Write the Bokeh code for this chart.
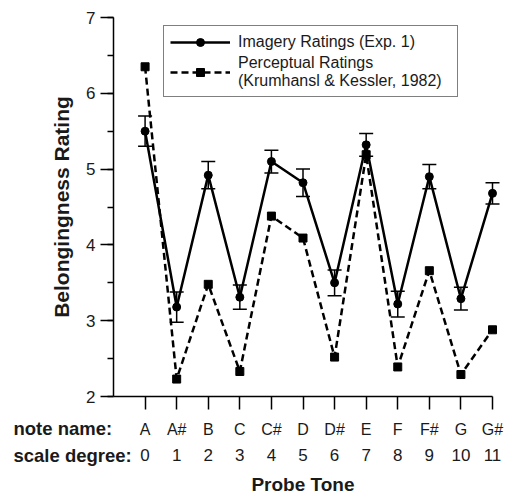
from bokeh.plotting import figure
from bokeh.models import (ColumnDataSource, Whisker, TeeHead, Legend, LegendItem,
                          LinearAxis, FixedTicker, SingleIntervalTicker, Range1d, Label)
from bokeh.embed import file_html
from bokeh.resources import INLINE

# ---- data ----
degrees = list(range(12))
note_names = ["A", "A#", "B", "C", "C#", "D", "D#", "E", "F", "F#", "G", "G#"]
degree_labels = [str(d) for d in degrees]
imagery = [5.50, 3.18, 4.92, 3.31, 5.10, 4.82, 3.50, 5.32, 3.22, 4.90, 3.29, 4.68]
imagery_err = [0.20, 0.20, 0.18, 0.16, 0.15, 0.18, 0.17, 0.15, 0.17, 0.16, 0.15, 0.14]
perceptual = [6.35, 2.23, 3.48, 2.33, 4.38, 4.09, 2.52, 5.19, 2.39, 3.66, 2.29, 2.88]

FONT = "Liberation Sans"
TXT = "#1a1a1a"

W, H = 508, 494
# plot area in pixels: x=-1 at 113, x=11 at 492; y=7 at 17, y=2 at 396
PX_X = (492 - 113) / 12.0
PX_Y = (396 - 17) / 5.0
x_lo = -1 - 113 / PX_X
x_hi = 11 + (W - 492) / PX_X
y_hi = 7 + 17 / PX_Y
y_lo = 2 - (H - 396) / PX_Y

src = ColumnDataSource(dict(
    x=degrees,
    img=imagery,
    lo=[v - e for v, e in zip(imagery, imagery_err)],
    hi=[v + e for v, e in zip(imagery, imagery_err)],
    per=perceptual,
))

p = figure(width=W, height=H,
           x_range=Range1d(x_lo, x_hi), y_range=Range1d(y_lo, y_hi),
           output_backend="svg", toolbar_location=None,
           x_axis_location=None, y_axis_location=None,
           min_border=0)
p.grid.visible = False
p.outline_line_color = None
p.background_fill_color = "white"
p.border_fill_color = "white"

# y axis (fixed at x = -1)
ya = LinearAxis(fixed_location=-1, bounds=(2, 7),
                ticker=SingleIntervalTicker(interval=1, num_minor_ticks=2))
ya.axis_line_width = 1.5
ya.axis_line_color = "black"
ya.major_tick_line_width = 1.5
ya.minor_tick_line_width = 1.5
ya.major_tick_out = 13
ya.major_tick_in = 0
ya.minor_tick_out = 6
ya.minor_tick_in = 0
ya.major_label_text_font = FONT
ya.major_label_text_font_size = "17px"
ya.major_label_text_color = TXT
ya.major_label_standoff = 5
ya.axis_label = "Belongingness Rating"
ya.axis_label_text_font = FONT
ya.axis_label_text_font_size = "21px"
ya.axis_label_text_font_style = "bold"
ya.axis_label_text_color = TXT
ya.axis_label_standoff = 10
p.add_layout(ya, "left")

# x axis: note names (with ticks), fixed at y = 2
xa1 = LinearAxis(fixed_location=2, bounds=(-1, 11), ticker=FixedTicker(ticks=degrees),
                 major_label_overrides={d: n for d, n in zip(degrees, note_names)})
xa1.axis_line_width = 1.5
xa1.major_tick_line_width = 1.5
xa1.major_tick_out = 13
xa1.major_tick_in = 0
xa1.minor_tick_line_color = None
xa1.major_label_text_font = FONT
xa1.major_label_text_font_size = "16px"
xa1.major_label_text_color = TXT
xa1.major_label_standoff = 11
p.add_layout(xa1, "below")

# x axis: scale degrees (no line / ticks) + axis title
xa2 = LinearAxis(fixed_location=2, bounds=(-1, 11), ticker=FixedTicker(ticks=degrees),
                 major_label_overrides={d: s for d, s in zip(degrees, degree_labels)})
xa2.axis_line_color = None
xa2.major_tick_line_color = None
xa2.minor_tick_line_color = None
xa2.major_tick_out = 0
xa2.major_tick_in = 0
xa2.major_label_text_font = FONT
xa2.major_label_text_font_size = "17px"
xa2.major_label_text_color = TXT
xa2.major_label_standoff = 52
xa2.axis_label = "Probe Tone"
xa2.axis_label_text_font = FONT
xa2.axis_label_text_font_size = "19px"
xa2.axis_label_text_font_style = "bold"
xa2.axis_label_text_color = TXT
xa2.axis_label_standoff = 10
p.add_layout(xa2, "below")

# row captions (frame covers the whole canvas; screen y measured from bottom)
for txt, y_px in (("note name:", 428), ("scale degree:", 455)):
    p.add_layout(Label(x=13, x_units="screen", y=H - y_px, y_units="screen", text=txt,
                       text_font=FONT, text_font_size="18.5px", text_font_style="bold",
                       text_baseline="middle", text_align="left", text_color=TXT))

# error bars
head_kw = dict(size=14, line_color="black", line_width=1.5)
p.add_layout(Whisker(base="x", upper="hi", lower="lo", source=src,
                     line_color="black", line_width=1.5,
                     upper_head=TeeHead(**head_kw), lower_head=TeeHead(**head_kw)))

# series
r_per_line = p.line("x", "per", source=src, line_color="black", line_width=2.5, line_dash="7 4")
r_per_pts = p.scatter("x", "per", source=src, marker="square", size=8, color="black")
r_img_line = p.line("x", "img", source=src, line_color="black", line_width=2.5)
r_img_pts = p.scatter("x", "img", source=src, marker="circle", size=8, color="black")

legend = Legend(items=[
    LegendItem(label="Imagery Ratings (Exp. 1)", renderers=[r_img_line, r_img_pts]),
    LegendItem(label="Perceptual Ratings\n(Krumhansl & Kessler, 1982)", renderers=[r_per_line, r_per_pts]),
], location=(163, H - 97))
legend.glyph_width = 60
legend.label_standoff = 8
legend.label_width = 213
legend.padding = 6
legend.spacing = 2
legend.margin = 0
legend.label_text_font = FONT
legend.label_text_font_size = "16px"
legend.label_text_color = TXT
legend.border_line_color = "black"
legend.border_line_width = 1
legend.background_fill_alpha = 1
p.add_layout(legend, "center")

open("out.html", "w").write(file_html(p, INLINE))
